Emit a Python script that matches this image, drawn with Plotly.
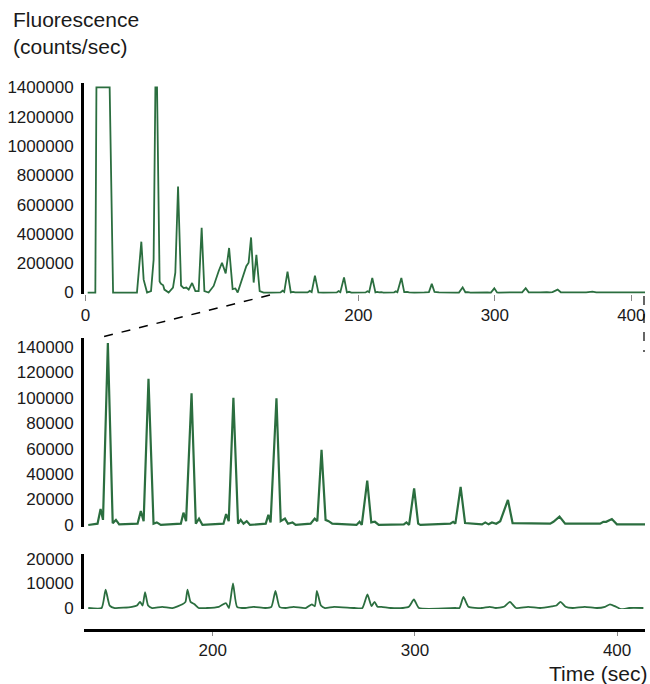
import plotly.graph_objects as go

# ---------------- data ----------------
# Top panel, early part of the run (0-136 s)
early_time = [1.7, 7.3, 8.1, 17.8, 20.3, 37.8, 41.0, 42.7, 45.2, 48.1, 50.0, 51.3, 52.5,
              54.4, 55.3, 57.0, 57.9, 61.0, 64.2, 65.9, 67.9, 70.1, 72.0, 74.0, 75.7, 78.2,
              80.6, 83.0, 85.2, 87.2, 90.3, 94.0, 97.7, 100.1, 102.8, 105.3, 107.9, 109.9,
              111.6, 114.1, 116.0, 117.9, 119.6, 121.4, 123.3, 125.3, 127.7, 130.6, 136.0]
early_signal = [0, 0, 1400000, 1400000, 0, 0, 347000, 88000, 0, 10000, 223000, 1400000, 1400000,
                76000, 60000, 50000, 20000, 0, 34000, 135000, 724000, 48000, 30000, 34000, 20000, 65000,
                10000, 10000, 442000, 10000, 0, 45000, 147000, 203000, 131000, 304000, 23000, 28000,
                0, 68000, 124000, 180000, 203000, 376000, 68000, 257000, 10000, 0, 0]

# Later part of the run (138-414 s)
late_time = [138.4, 143.0, 144.5, 145.7, 148.1, 150.5, 152.1, 153.7, 162.8, 164.4, 165.8, 168.2,
             170.7, 172.3, 174.3, 184.2, 185.5, 186.8, 189.5, 191.6, 193.2, 194.9, 205.3, 206.6,
             207.9, 210.2, 212.5, 213.8, 215.2, 216.8, 218.4, 226.2, 227.5, 228.6, 231.5, 233.6,
             235.7, 237.2, 239.4, 241.0, 248.4, 250.4, 251.7, 253.8, 255.8, 257.3, 259.1, 271.1,
             272.6, 273.7, 276.4, 278.4, 280.2, 282.1, 294.5, 295.8, 297.1, 299.6, 301.6, 302.7,
             317.5, 318.9, 320.0, 322.6, 324.8, 333.2, 334.8, 336.4, 338.1, 340.2, 342.2, 346.0,
             348.3, 366.9, 368.5, 371.5, 374.3, 391.6, 393.2, 394.6, 397.4, 399.9, 413.8]
late_signal = [0, 1000, 12600, 4000, 143000, 1300, 4000, 500, 1000, 11000, 3000, 115000,
               1000, 2000, 0, 1000, 9700, 3000, 103600, 1000, 5000, 0, 1000, 8600,
               3000, 100000, 1000, 4000, 1000, 3000, 0, 1000, 7900, 2000, 99600, 3000,
               5000, 1000, 2000, 0, 1000, 5000, 3000, 59000, 4000, 3000, 1000, 0,
               2500, 0, 34900, 2000, 2500, 0, 500, 2000, 0, 28800, 1000, 0,
               1000, 2500, 1000, 30000, 1500, 500, 2000, 500, 2000, 1000, 3000, 19700,
               1500, 1000, 2500, 6600, 1000, 1000, 2500, 2500, 4700, 500, 500]

# Bottom panel (second trace, 138-414 s)
low_time = [138.4, 145.0, 147.0, 149.0, 151.5, 160.0, 162.5, 164.0, 165.3, 166.5, 168.0, 170.0,
            175.0, 180.0, 185.0, 186.5, 187.5, 189.0, 191.0, 193.0, 197.0, 203.0, 206.5, 208.0,
            210.0, 212.0, 216.0, 220.0, 226.0, 229.0, 231.0, 233.0, 236.0, 240.0, 246.0, 249.0,
            250.5, 251.5, 253.5, 255.5, 260.0, 270.0, 274.0, 276.5, 278.5, 280.0, 281.5, 283.5,
            288.0, 294.0, 297.0, 299.5, 302.0, 320.0, 322.0, 324.0, 326.5, 333.0, 337.0, 340.0,
            344.0, 347.0, 350.0, 356.0, 362.0, 368.0, 370.0, 372.0, 374.5, 378.0, 384.0, 390.0,
            394.0, 396.5, 399.5, 402.0, 406.0, 413.0]
low_signal = [0, 0, 7500, 1000, 0, 500, 1000, 2500, 1000, 6500, 1000, 0,
              500, 0, 1500, 2500, 7500, 2500, 1500, 0, 0, 500, 2000, 0,
              10000, 500, 0, 500, 0, 500, 7000, 500, 0, 500, 0, 1500,
              700, 7000, 1000, 0, 500, 0, 0, 5500, 800, 2500, 500, 500,
              0, 0, 500, 3500, 0, 0, 0, 4500, 500, 0, 500, 0,
              500, 2500, 0, 500, 0, 700, 1000, 2500, 500, 0, 500, 0,
              500, 1500, 500, -500, 0, 0]

top_ticks = [0, 200, 300, 400]
mid_ticks = [0, 20000, 40000, 60000, 80000, 100000, 120000, 140000]
low_ticks = [0, 10000, 20000]
top_yticks = [0, 200000, 400000, 600000, 800000, 1000000, 1200000, 1400000]
time_ticks = [200, 300, 400]

# ---------------- figure ----------------
W, H = 650, 684
GREEN = "#2b6e3f"
FONT = "Liberation Sans, Arial, sans-serif"

def px_x(x):
    return x / W

def px_y(y):
    return 1 - y / H

fig = go.Figure()

top_t = early_time + late_time
top_s = early_signal + late_signal
fig.add_trace(go.Scatter(x=top_t, y=top_s, mode="lines", line=dict(color=GREEN, width=1.8),
                         xaxis="x", yaxis="y", hoverinfo="skip", showlegend=False))
fig.add_trace(go.Scatter(x=late_time, y=late_signal, mode="lines",
                         line=dict(color=GREEN, width=2.2),
                         xaxis="x2", yaxis="y2", hoverinfo="skip", showlegend=False))
fig.add_trace(go.Scatter(x=low_time, y=low_signal, mode="lines",
                         line=dict(color=GREEN, width=1.8, shape="spline", smoothing=0.5),
                         xaxis="x3", yaxis="y3", hoverinfo="skip", showlegend=False))

tickfont = dict(family=FONT, size=17, color="#1a1a1a")
xdom = [px_x(84), px_x(645)]

yaxis_common = dict(showline=True, linecolor="black", linewidth=3, ticks="", showgrid=False,
                    zeroline=False, tickfont=tickfont, automargin=False, ticklabelstandoff=4,
                    tickformat="d")

fig.update_layout(
    width=W, height=H,
    margin=dict(l=0, r=0, t=0, b=0),
    paper_bgcolor="white", plot_bgcolor="white",
    showlegend=False,
    xaxis=dict(domain=xdom, anchor="y", range=[-1, 410], showline=False, showgrid=False,
               zeroline=False, tickvals=top_ticks, ticks="outside", ticklen=6, tickwidth=1,
               tickcolor="#888888", tickfont=tickfont, automargin=False),
    yaxis=dict(domain=[px_y(294), px_y(83)], anchor="x", range=[-10000, 1430000],
               tickvals=top_yticks, **yaxis_common),
    xaxis2=dict(domain=xdom, anchor="y2", range=[136.3, 413.8], visible=False, matches="x3"),
    yaxis2=dict(domain=[px_y(527), px_y(338)], anchor="x2", range=[-1600, 147000],
                tickvals=mid_ticks, **yaxis_common),
    xaxis3=dict(domain=xdom, anchor="free", position=px_y(630), range=[136.3, 413.8],
                showline=True, linecolor="black", linewidth=3, showgrid=False, zeroline=False,
                tickvals=time_ticks, ticks="outside", ticklen=4, tickwidth=1, tickcolor="#888888",
                tickfont=tickfont, automargin=False),
    yaxis3=dict(domain=[px_y(609), px_y(554)], anchor="x3", range=[-400, 22000],
                tickvals=low_ticks, **yaxis_common),
)

# zoom guide lines
fig.add_shape(type="line", xref="paper", yref="paper",
              x0=px_x(270), y0=px_y(295), x1=px_x(98), y1=px_y(338),
              line=dict(color="black", width=1.5, dash="dash"))
fig.add_shape(type="line", xref="paper", yref="paper",
              x0=px_x(644), y0=px_y(296), x1=px_x(644), y1=px_y(352),
              line=dict(color="black", width=1.2, dash="dash"))

fig.add_annotation(xref="paper", yref="paper", x=px_x(11), y=px_y(6), xanchor="left", yanchor="top",
                   text="Fluorescence<br>(counts/sec)", showarrow=False, align="left",
                   font=dict(family=FONT, size=21, color="#1a1a1a"))
fig.add_annotation(xref="paper", yref="paper", x=px_x(649), y=px_y(673), xanchor="right",
                   yanchor="middle", text="Time (sec)", showarrow=False,
                   font=dict(family=FONT, size=21, color="#1a1a1a"))

fig.write_html("out.html")
